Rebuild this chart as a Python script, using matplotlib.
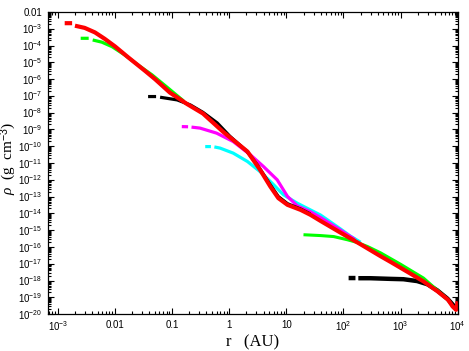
import numpy as np
import matplotlib
matplotlib.use("Agg")
import matplotlib.pyplot as plt
from matplotlib.ticker import FixedLocator, FixedFormatter, LogLocator, NullFormatter

plt.rcParams["mathtext.fontset"] = "custom"
plt.rcParams["mathtext.rm"] = "Liberation Sans"
plt.rcParams["mathtext.it"] = "Liberation Serif:italic"

# log10 of radius (AU) and density (g cm^-3); nan = gap in points
# snapshots in drawing order (earliest first, red = latest, on top)
black0_logr = [2.09, 2.21, np.nan, 2.26, 2.47, 2.83, 3.05, 3.29, 3.47, 3.64, 3.82, 3.93, 3.98]
black0_logrho = [-17.85, -17.85, np.nan, -17.86, -17.86, -17.90, -17.92, -18.03, -18.22, -18.58, -19.08, -19.50, -19.72]

green0_logr = [1.30, 1.60, 1.83, 2.07, 2.24, 2.42, 2.65, 3.0, 3.4, 3.8]
green0_logrho = [-15.27, -15.32, -15.38, -15.57, -15.73, -15.97, -16.35, -17.03, -17.85, -19.05]

cyan_logr = [-0.42, -0.32, np.nan, -0.26, -0.16, 0.07, 0.32, 0.54, 0.75, 0.95, 1.19, 1.42, 1.60, 1.95, 2.12, 2.30]
cyan_logrho = [-10.02, -10.02, np.nan, -10.04, -10.11, -10.41, -10.91, -11.51, -12.20, -12.89, -13.39, -13.79, -14.10, -14.93, -15.35, -15.72]

magenta_logr = [-0.83, -0.72, np.nan, -0.66, -0.51, -0.22, 0.07, 0.37, 0.60, 0.84, 1.02, 1.19, 1.42, 1.60, 1.95, 2.2]
magenta_logrho = [-8.83, -8.84, np.nan, -8.86, -8.92, -9.22, -9.72, -10.51, -11.21, -12.00, -12.99, -13.55, -13.90, -14.25, -15.0, -15.55]

black1_logr = [-1.42, -1.28, np.nan, -1.21, -0.91, -0.68, -0.46, -0.21, 0.01, 0.31, 0.50, 0.72, 0.86, 1.02, 1.25, 1.42]
black1_logrho = [-7.04, -7.04, np.nan, -7.08, -7.24, -7.54, -7.98, -8.61, -9.40, -10.30, -11.15, -12.30, -13.00, -13.42, -13.74, -14.03]

green1_logr = [-2.60, -2.46, np.nan, -2.39, -2.23, -2.05, -1.83, -1.60, -1.35, -1.10, -0.80]
green1_logrho = [-3.57, -3.57, np.nan, -3.67, -3.80, -4.07, -4.56, -5.15, -5.75, -6.45, -7.30]

red_logr = [-2.88, -2.75, np.nan, -2.70, -2.53, -2.35, -2.18, -2.00, -1.77, -1.47, -1.30, -1.04, -0.74,
            -0.46, -0.11, 0.32, 0.54, 0.72, 0.86, 1.02, 1.25, 1.42, 1.60, 1.95, 2.30, 2.65, 2.83,
            3.18, 3.40, 3.65, 3.83, 3.91, 3.97, 4.0]
red_logrho = [-2.67, -2.67, np.nan, -2.82, -2.95, -3.22, -3.60, -4.05, -4.70, -5.52, -6.00, -6.80, -7.48,
              -8.05, -9.13, -10.32, -11.40, -12.40, -13.09, -13.49, -13.79, -14.08, -14.45, -15.15, -15.84, -16.55, -16.90,
              -17.60, -18.05, -18.65, -19.14, -19.54, -19.74, -19.24]

snapshots = [
    (black0_logr, black0_logrho, "black", 3.2),
    (green0_logr, green0_logrho, "#00ff00", 2.2),
    (cyan_logr, cyan_logrho, "#00ffff", 2.3),
    (magenta_logr, magenta_logrho, "#ff00ff", 2.3),
    (black1_logr, black1_logrho, "black", 2.3),
    (green1_logr, green1_logrho, "#00ff00", 2.3),
    (red_logr, red_logrho, "#ff0000", 3.0),
]

xticks = [1e-3, 1e-2, 1e-1, 1, 10, 1e2, 1e3, 1e4]
xticklabels = ["$10^{-3}$", "0.01", "0.1", "1", "10", "$10^{2}$", "$10^{3}$", "$10^{4}$"]
yticks = [10.0 ** -k for k in range(2, 21)]
yticklabels = ["0.01"] + ["$10^{-%d}$" % k for k in range(3, 21)]

fig = plt.figure(figsize=(4.69, 3.51), dpi=100)
ax = fig.add_axes([0.102, 0.105, 0.875, 0.861])

for lr, lrho, col, lw in snapshots:
    ax.plot(10 ** np.array(lr), 10 ** np.array(lrho), color=col, lw=lw,
            solid_capstyle="butt", solid_joinstyle="round")

ax.set_xscale("log")
ax.set_yscale("log")
ax.set_xlim(10 ** -3.175, 1.02e4)
ax.set_ylim(1e-20, 1e-2)

ax.xaxis.set_major_locator(FixedLocator(xticks))
ax.xaxis.set_major_formatter(FixedFormatter(xticklabels))
ax.yaxis.set_major_locator(FixedLocator(yticks))
ax.yaxis.set_major_formatter(FixedFormatter(yticklabels))
ax.xaxis.set_minor_locator(LogLocator(base=10, subs=np.arange(2, 10), numticks=100))
ax.yaxis.set_minor_locator(LogLocator(base=10, subs=np.arange(2, 10), numticks=100))
ax.xaxis.set_minor_formatter(NullFormatter())
ax.yaxis.set_minor_formatter(NullFormatter())

ax.tick_params(which="both", direction="in", top=True, right=True, labelsize=7, width=0.8)
ax.tick_params(which="major", length=4, pad=4)
ax.tick_params(which="minor", length=2)
for lab in ax.get_xticklabels() + ax.get_yticklabels():
    lab.set_fontfamily("Liberation Sans")
for s in ax.spines.values():
    s.set_linewidth(0.9)

ax.set_xlabel("r   (AU)", fontfamily="Liberation Serif", fontsize=12, labelpad=1)
ax.set_ylabel(r"$\rho$  (g  cm$^{-3}$)", fontfamily="Liberation Serif", fontsize=11,
              va="center", ha="center")
ax.yaxis.set_label_coords(-0.095, 0.515)

fig.savefig("out.png", dpi=100)
